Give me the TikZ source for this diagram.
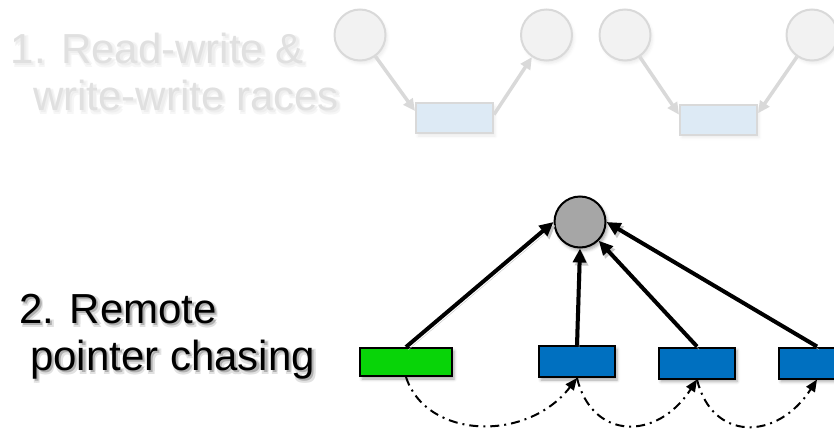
\documentclass[tikz,border=0pt]{standalone}
\usepackage{fontspec}
\setmainfont{Liberation Sans}
\usetikzlibrary{arrows.meta,shadows.blur}

\definecolor{fadefill}{RGB}{242,242,242}
\definecolor{fadeline}{RGB}{217,217,217}
\definecolor{fadebox}{RGB}{221,234,245}
\definecolor{fadetext}{RGB}{224,224,224}
\definecolor{fadehalo}{RGB}{246,246,246}
\definecolor{fadecore}{RGB}{238,238,238}
\definecolor{inkhalo}{RGB}{225,225,225}
\definecolor{inkcore}{RGB}{175,175,175}
\definecolor{hubgray}{RGB}{166,166,166}
\definecolor{localgreen}{RGB}{8,212,8}
\definecolor{remoteblue}{RGB}{0,112,192}

% one offset copy of a text, set without width
\newcommand\offsetcopy[4]{%
  \makebox[0pt][l]{\hspace{#1}\raisebox{#2}{\textcolor{#3}{#4}}}}
% text over a soft drop shadow (#2 outer halo colour, #3 inner colour)
\newcommand\softtext[3]{%
  \offsetcopy{1pt}{-1.5pt}{#2}{#1}\offsetcopy{3.5pt}{-1.5pt}{#2}{#1}%
  \offsetcopy{1pt}{-4pt}{#2}{#1}\offsetcopy{3.5pt}{-4pt}{#2}{#1}%
  \offsetcopy{2.2pt}{-2.8pt}{#3}{#1}#1}

\begin{document}
\begin{tikzpicture}[x=1pt,y=-1pt,
  lbl/.style={anchor=base west,inner sep=0pt,font=\fontsize{42}{47}\selectfont},
  softshadow/.style={blur shadow={shadow xshift=2pt,shadow yshift=-3pt,
      shadow blur radius=3pt,shadow opacity=#1}},
  faintnode/.style={circle,draw=fadeline,fill=fadefill,line width=2pt,
      minimum size=51pt,inner sep=0pt,softshadow=8},
  faintbox/.style={rectangle,draw=fadeline,fill=fadebox,line width=2pt,
      minimum width=77pt,minimum height=30pt,inner sep=0pt,softshadow=8},
  faintarrow/.style={draw=fadeline,line width=3.5pt,
      -{Triangle[length=12pt,width=11pt]}},
  hub/.style={circle,draw=black,fill=hubgray,line width=2pt,
      minimum size=51pt,inner sep=0pt,softshadow=35},
  cell/.style={rectangle,draw=black,line width=2pt,inner sep=0pt,softshadow=35},
  greenbox/.style={cell,fill=localgreen,minimum width=92pt,minimum height=28pt},
  bluebox/.style={cell,fill=remoteblue,minimum width=76pt,minimum height=31pt},
  ptr/.style={draw=black,line width=4pt,-{Triangle[length=14pt,width=13pt]},
      preaction={draw=black!22,transform canvas={shift={(2pt,-3pt)}}}},
  chase/.style={draw=black,line width=2pt,
      dash pattern=on 9pt off 5pt on 2pt off 5pt,
      -{Triangle[length=12pt,width=10pt]}}]

\useasboundingbox (0,0) rectangle (834,431);
\clip (0,0) rectangle (834,431);

% --- case 1: races (faded) ---
\node[lbl,text=fadetext] (t1a) at (10.5,63) {\softtext{1. Read-write \&}{fadehalo}{fadecore}};
\node[lbl,text=fadetext] (t1b) at (33,110) {\softtext{write-write races}{fadehalo}{fadecore}};

\node[faintnode] (e1) at (360,35) {};
\node[faintnode] (e2) at (546.5,35) {};
\node[faintnode] (e3) at (625,35) {};
\node[faintnode] (e4) at (812,35) {};
\node[faintbox] (r1) at (454.5,118) {};
\node[faintbox] (r2) at (718.5,119.5) {};

\draw[faintarrow] (e1) -- (r1.170);
\draw[faintarrow] (r1.5) -- (e2);
\draw[faintarrow] (e3) -- (r2.173);
\draw[faintarrow] (e4) -- (r2.9);

% --- case 2: remote pointer chasing ---
\node[lbl] (t2a) at (19,323) {\softtext{2. Remote}{inkhalo}{inkcore}};
\node[lbl] (t2b) at (30,370) {\softtext{pointer chasing}{inkhalo}{inkcore}};

\node[hub] (c) at (580,222) {};
\node[greenbox] (g) at (406,362) {};
\node[bluebox] (b1) at (577,361.5) {};
\node[bluebox] (b2) at (697,363) {};
\node[bluebox] (b3) at (817,363) {};

\draw[ptr] (g.north) -- (c.west);
\draw[ptr] (b1.north) -- (c.south);
\draw[ptr] (b2.north) -- (c.south east);
\draw[ptr] (b3.north) -- (c.east);

\draw[chase] (g.south) .. controls +(20,62) and +(-50,65) .. (b1.south);
\draw[chase] (b1.south) .. controls +(15,62) and +(-40,62) .. (b2.south);
\draw[chase] (b2.south) .. controls +(15,62) and +(-40,62) .. (b3.south);
\end{tikzpicture}
\end{document}
